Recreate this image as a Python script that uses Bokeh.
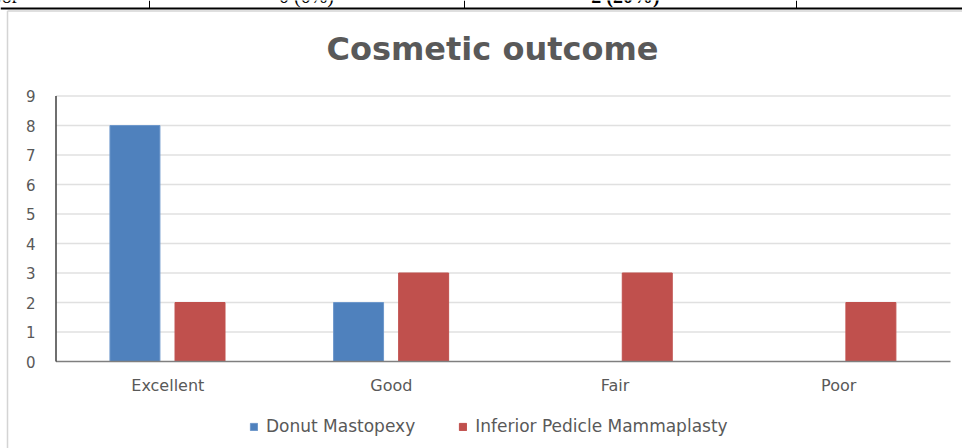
from bokeh.plotting import figure
from bokeh.models import Range1d, ColumnDataSource, Legend, LegendItem
from bokeh.core.properties import value
from bokeh.embed import file_html
from bokeh.resources import INLINE

categories = ["Excellent", "Good", "Fair", "Poor"]
donut = [8, 2, 0, 0]
inferior = [2, 3, 3, 2]
series_names = ["Donut Mastopexy", "Inferior Pedicle Mammaplasty"]
y_ticks = [0, 1, 2, 3, 4, 5, 6, 7, 8, 9]
chart_title = "Cosmetic outcome"
table_texts = ["Poor", "0 (0%)", "2 (20%)"]

W, H = 962, 448
# plot-area geometry in pixels (layout only)
PL, PR, PT, PB = 55.5, 950.0, 95.5, 361.0
YMAX = y_ticks[-1]
ux = (PR - PL) / len(categories)
uy = (PB - PT) / YMAX

LABEL_FONT = "DejaVu Sans"
GRAY = "#595959"

p = figure(width=W, height=H, output_backend="svg", toolbar_location=None,
           x_range=Range1d(-PL / ux, (W - PL) / ux),
           y_range=Range1d(-(H - PB) / uy, YMAX + PT / uy),
           x_axis_location=None, y_axis_location=None, min_border=0)
p.outline_line_color = None
p.xgrid.visible = False
p.ygrid.visible = False
p.border_fill_color = "white"
p.extra_x_ranges = {"px": Range1d(0, W)}
p.extra_y_ranges = {"px": Range1d(H, 0)}

idx = [i + 0.5 for i in range(len(categories))]
src = ColumnDataSource(dict(cat=categories, xc=idx, zero=[0] * len(categories),
                            x1=[v - 0.147 for v in idx], x2=[v + 0.144 for v in idx],
                            donut=donut, inferior=inferior))

# grid lines
grid = [t for t in y_ticks if t > 0]
p.segment(x0=[0] * len(grid), x1=[len(categories)] * len(grid), y0=grid, y1=grid,
          line_color="#e0e0e0", line_width=1.5)

r1 = p.vbar(x="x1", top="donut", width=0.2235, source=src,
            fill_color="#4f81bd", line_color="#6e98cb", line_width=1)
r2 = p.vbar(x="x2", top="inferior", width=0.2235, source=src,
            fill_color="#c0504d", line_color="#c0504d", line_width=1)

# axes lines
p.segment(x0=[0], x1=[len(categories)], y0=[0], y1=[0], line_color="#7f7f7f", line_width=1.5)
p.segment(x0=[0], x1=[0], y0=[0], y1=[YMAX], line_color="#3f3f3f", line_width=1.5)

# y tick labels
p.text(x=[35] * len(y_ticks), y=y_ticks, text=[str(t) for t in y_ticks], x_range_name="px",
       text_font=value(LABEL_FONT), text_font_size="15px", text_color=GRAY,
       text_align="right", text_baseline="middle")
# category labels
p.text(x="xc", y="zero", text="cat", source=src, y_offset=24,
       text_font=value(LABEL_FONT), text_font_size="16px", text_color=GRAY,
       text_align="center", text_baseline="alphabetic")

# title
p.text(x=[492], y=[48], text=[chart_title], x_range_name="px", y_range_name="px",
       text_font=value("DejaVu Sans"), text_font_style="bold", text_font_size="32px",
       text_color=GRAY, text_align="center", text_baseline="alphabetic")

# legend
legend = Legend(items=[LegendItem(label=series_names[0], renderers=[r1]),
                       LegendItem(label=series_names[1], renderers=[r2])],
                orientation="horizontal", location=(249, 12), padding=0, margin=0,
                label_text_font=LABEL_FONT, label_text_font_size="17px", label_text_color=GRAY,
                glyph_width=9, glyph_height=9, spacing=43, label_standoff=8,
                border_line_color=None, background_fill_alpha=0)
p.add_layout(legend, "center")

# chart border (light gray) and table fragment above
p.segment(x0=[7, 7], x1=[7, W], y0=[H, 10.5], y1=[10.5, 10.5], x_range_name="px",
          y_range_name="px", line_color="#d4d4d4", line_width=1.5)
p.segment(x0=[0], x1=[W], y0=[8], y1=[8], x_range_name="px", y_range_name="px",
          line_color="black", line_width=2)
vx = [149, 464, 796]
p.segment(x0=vx, x1=vx, y0=[0] * 3, y1=[8] * 3, x_range_name="px", y_range_name="px",
          line_color="black", line_width=1)
p.text(x=[18], y=[-4.5], text=[table_texts[0]], x_range_name="px", y_range_name="px",
       text_font=value("Liberation Serif"), text_font_size="20px", text_color="black",
       text_align="right", text_baseline="alphabetic")
p.text(x=[306], y=[-4.5], text=[table_texts[1]], x_range_name="px", y_range_name="px",
       text_font=value("Liberation Serif"), text_font_size="20px", text_color="black",
       text_align="center", text_baseline="alphabetic")
p.text(x=[625], y=[-4.5], text=[table_texts[2]], x_range_name="px", y_range_name="px",
       text_font=value("Liberation Serif"), text_font_size="20px", text_font_style="bold",
       text_color="black", text_align="center", text_baseline="alphabetic")

open("out.html", "w").write(file_html(p, INLINE))
